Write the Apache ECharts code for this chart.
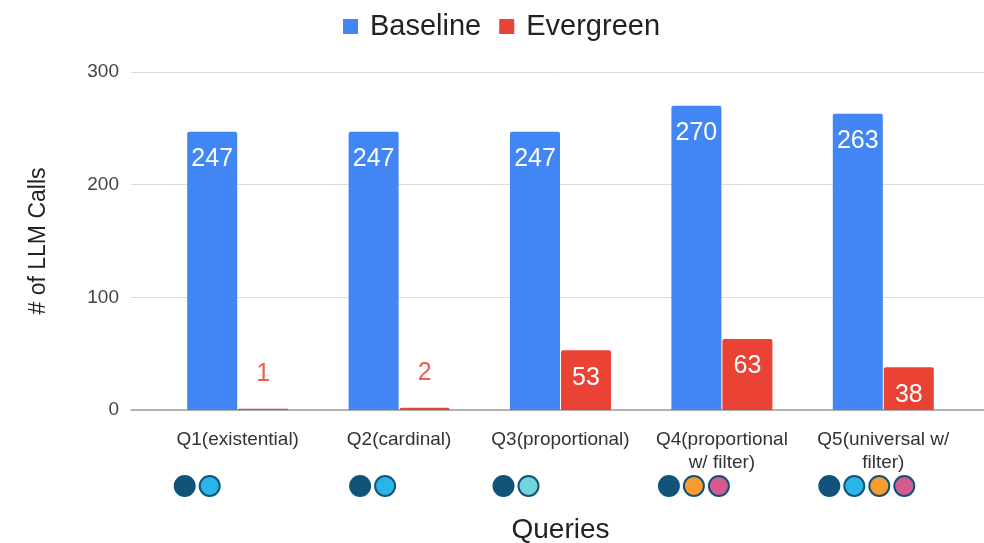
<!DOCTYPE html>
<html>
<head>
<meta charset="utf-8">
<script src="https://cdn.jsdelivr.net/npm/echarts@6/dist/echarts.min.js"></script>
<style>
  html, body { margin: 0; padding: 0; background: #fff; }
  #chart { width: 984px; height: 543px; }
</style>
</head>
<body>
<div id="chart"></div>
<script>
// Query categories and LLM call counts per strategy
const categories = ['Q1(existential)', 'Q2(cardinal)', 'Q3(proportional)', 'Q4(proportional\nw/ filter)', 'Q5(universal w/\nfilter)'];
const baseline = [247, 247, 247, 270, 263];
const evergreen = [1, 2, 53, 63, 38];
const yTicks = [0, 100, 200, 300];

// Operator icons shown under each query
const queryIcons = [
  ['navy', 'sky'],
  ['navy', 'sky'],
  ['navy', 'teal'],
  ['navy', 'orange', 'pink'],
  ['navy', 'sky', 'orange', 'pink']
];

const iconColors = {
  navy: '#12537a',
  sky: '#29b5e8',
  teal: '#72d5dc',
  orange: '#f99b2f',
  pink: '#d65a92'
};
// horizontal start of each icon row relative to the category centre, and spacing
const iconStart = [-53, -39, -57, -53, -54];
const iconStep = 25;

const FONT = '"Liberation Sans", Arial, sans-serif';
const BLUE = '#4285f4';
const RED = '#ea4335';

// small bars carry their value label above the bar, in the series colour
function barData(values) {
  return values.map(v => {
    if (v < 10) {
      return {
        value: v,
        label: { position: 'top', distance: 22, color: '#ef5d52' }
      };
    }
    return v;
  });
}

const iconData = [];
queryIcons.forEach((row, i) => {
  row.forEach((kind, j) => {
    iconData.push({
      value: [i, 0],
      symbolOffset: [iconStart[i] + j * iconStep, 0],
      itemStyle: { color: iconColors[kind] }
    });
  });
});

const chart = echarts.init(document.getElementById('chart'), null, { renderer: 'canvas' });

const yMin = yTicks[0], yMax = yTicks[yTicks.length - 1], yStep = yTicks[1] - yTicks[0];

const valueLabel = { show: true, position: 'insideTop', distance: 15, color: '#fff', fontSize: 25, fontFamily: FONT };

chart.setOption({
  animation: false,
  backgroundColor: '#ffffff',
  textStyle: { fontFamily: FONT },
  legend: {
    top: 7,
    left: 338,
    itemWidth: 15,
    itemHeight: 15,
    itemGap: 18,
    icon: 'rect',
    textStyle: { fontSize: 29, color: '#222', fontFamily: FONT, padding: [0, 0, 0, 7] },
    data: ['Baseline', 'Evergreen']
  },
  grid: [
    { left: 131, right: 0, top: 72, bottom: 133, containLabel: false, outerBoundsMode: 'none' },
    { left: 157, right: 20, top: 72, bottom: 133, containLabel: false, outerBoundsMode: 'none' },
    { left: 157, right: 20, top: 476, height: 20, containLabel: false, outerBoundsMode: 'none' }
  ],
  xAxis: [
    {
      gridIndex: 0, type: 'value', min: 0, max: 1,
      axisLine: { show: true, onZero: false, lineStyle: { color: '#9e9e9e', width: 1.5 } },
      axisTick: { show: false }, axisLabel: { show: false }, splitLine: { show: false }
    },
    {
      gridIndex: 1, type: 'category', data: categories,
      axisLine: { show: false }, axisTick: { show: false },
      axisLabel: { margin: 18, fontSize: 19, color: '#333', lineHeight: 23, fontFamily: FONT, interval: 0 },
      name: 'Queries', nameLocation: 'middle', nameGap: 106,
      nameTextStyle: { fontSize: 28, color: '#222', fontFamily: FONT }
    },
    {
      gridIndex: 2, type: 'category', data: categories, show: false
    }
  ],
  yAxis: [
    {
      gridIndex: 0, type: 'value', min: yMin, max: yMax, interval: yStep,
      axisLine: { show: false }, axisTick: { show: false },
      axisLabel: { margin: 12, fontSize: 19, color: '#444', fontFamily: FONT },
      splitLine: { lineStyle: { color: '#dcdcdc', width: 1 } },
      name: '# of LLM Calls', nameLocation: 'middle', nameGap: 81, nameRotate: 90,
      nameTextStyle: { fontSize: 23, color: '#222', fontFamily: FONT }
    },
    {
      gridIndex: 1, type: 'value', min: yMin, max: yMax, interval: yStep, show: false,
      splitLine: { show: false }
    },
    {
      gridIndex: 2, type: 'value', min: -1, max: 1, show: false, splitLine: { show: false }
    }
  ],
  series: [
    {
      name: 'Baseline', type: 'bar', xAxisIndex: 1, yAxisIndex: 1,
      data: barData(baseline), barWidth: 50, barGap: '2%',
      itemStyle: { color: BLUE, borderRadius: [2, 2, 0, 0] },
      label: valueLabel
    },
    {
      name: 'Evergreen', type: 'bar', xAxisIndex: 1, yAxisIndex: 1,
      data: barData(evergreen), barWidth: 50, barGap: '2%',
      itemStyle: { color: RED, borderRadius: [2, 2, 0, 0] },
      label: valueLabel
    },
    {
      name: 'icons', type: 'scatter', xAxisIndex: 2, yAxisIndex: 2,
      symbol: 'circle', symbolSize: 20,
      itemStyle: { borderColor: '#12537a', borderWidth: 2, opacity: 1 },
      data: iconData,
      silent: true
    }
  ]
});
</script>
</body>
</html>
